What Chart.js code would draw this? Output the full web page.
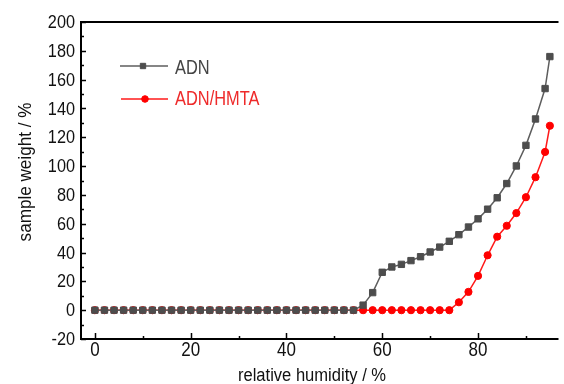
<!DOCTYPE html>
<html>
<head>
<meta charset="utf-8">
<script src="https://cdn.jsdelivr.net/npm/chart.js@4.4.1/dist/chart.umd.min.js"></script>
<style>
  html, body { margin: 0; padding: 0; background: #ffffff; overflow: hidden; }
  #wrap { width: 564px; height: 384px; }
</style>
</head>
<body>
<div id="wrap"><canvas id="chart" width="564" height="384"></canvas></div>
<script>
// Relative humidity (%) for every measured point
const humidity = [0, 2, 4, 6, 8, 10, 12, 14, 16, 18, 20, 22, 24, 26, 28, 30, 32, 34, 36, 38,
    40, 42, 44, 46, 48, 50, 52, 54, 56, 58, 60, 62, 64, 66, 68, 70, 72, 74, 76, 78,
    80, 82, 84, 86, 88, 90, 92, 94, 95];

// Sample weight (%) - pure ADN
const adnWeight = [0, 0, 0, 0, 0, 0, 0, 0, 0, 0, 0, 0, 0, 0, 0, 0, 0, 0, 0, 0,
    0, 0, 0, 0, 0, 0, 0, 0, 3.5, 12.2, 26.3, 30.0, 31.8, 34.4, 37.1, 40.4, 43.8, 47.8, 52.4, 57.7,
    63.4, 70.1, 78.0, 87.9, 100.1, 114.4, 132.7, 153.8, 176.0];

// Sample weight (%) - ADN/HMTA
const hmtaWeight = [0, 0, 0, 0, 0, 0, 0, 0, 0, 0, 0, 0, 0, 0, 0, 0, 0, 0, 0, 0,
    0, 0, 0, 0, 0, 0, 0, 0, 0, 0, 0, 0, 0, 0, 0, 0, 0, 0, 5.5, 12.7,
    23.8, 38.1, 51.0, 58.6, 67.4, 78.4, 92.3, 109.8, 128.0];

const seriesNames = ['ADN', 'ADN/HMTA'];
const xTickValues = [0, 20, 40, 60, 80];
const yTickValues = [-20, 0, 20, 40, 60, 80, 100, 120, 140, 160, 180, 200];

const FONT = '"Liberation Sans", Arial, sans-serif';

// Draw text squeezed horizontally (the original figure is narrow)
function squeezedText(ctx, text, x, y, align, sx) {
    ctx.save();
    ctx.translate(x, y);
    ctx.scale(sx, 1);
    ctx.textAlign = align;
    ctx.fillText(text, 0, 0);
    ctx.restore();
}

// Axis frame, inward ticks, tick labels and axis titles
const framePlugin = {
    id: 'frame',
    afterDraw(chart) {
        const ctx = chart.ctx;
        const area = chart.chartArea;
        const xs = chart.scales.x;
        const ys = chart.scales.y;
        ctx.save();
        ctx.strokeStyle = '#000000';
        ctx.lineWidth = 2;
        ctx.beginPath();
        ctx.moveTo(area.right, area.top);
        ctx.lineTo(area.left, area.top);
        ctx.lineTo(area.left, area.bottom);
        ctx.lineTo(area.right, area.bottom);
        ctx.stroke();

        // y ticks (major every 20, minor every 10)
        ctx.lineWidth = 1.5;
        ctx.beginPath();
        for (let v = -20; v <= 200; v += 10) {
            const py = Math.round(ys.getPixelForValue(v)) + 0.5;
            const len = v % 20 === 0 ? 5 : 3;
            ctx.moveTo(area.left, py);
            ctx.lineTo(area.left + len, py);
        }
        // x ticks
        for (let v = 0; v <= 90; v += 10) {
            const px = Math.round(xs.getPixelForValue(v)) + 0.5;
            const len = v % 20 === 0 ? 6 : 3;
            ctx.moveTo(px, area.bottom);
            ctx.lineTo(px, area.bottom - len);
        }
        ctx.stroke();

        ctx.fillStyle = '#111111';
        ctx.textBaseline = 'middle';
        ctx.font = '18.5px ' + FONT;
        yTickValues.forEach(v => {
            squeezedText(ctx, String(v), area.left - 6, ys.getPixelForValue(v) + 1, 'right', 0.88);
        });
        ctx.textBaseline = 'alphabetic';
        ctx.font = '20px ' + FONT;
        xTickValues.forEach(v => {
            squeezedText(ctx, String(v), xs.getPixelForValue(v), area.bottom + 17, 'center', 0.85);
        });

        // axis titles
        ctx.font = '18px ' + FONT;
        squeezedText(ctx, 'relative humidity / %', 312, 381, 'center', 0.92);
        ctx.save();
        ctx.translate(26, 172);
        ctx.rotate(-Math.PI / 2);
        ctx.textBaseline = 'middle';
        ctx.font = '19px ' + FONT;
        squeezedText(ctx, 'sample weight / %', 0, 0, 'center', 0.9);
        ctx.restore();

        // legend inside the plot
        const rows = [
            { y: 66, textY: 68, x0: 120, x1: 168, mx: 143, text: '#444444' },
            { y: 99, textY: 99, x0: 121, x1: 168, mx: 145, text: '#ee2a2a' }
        ];
        rows.forEach((row, i) => {
            const ds = chart.data.datasets[i];
            ctx.strokeStyle = ds.borderColor;
            ctx.lineWidth = 1.5;
            ctx.beginPath();
            ctx.moveTo(row.x0, row.y);
            ctx.lineTo(row.x1, row.y);
            ctx.stroke();
            ctx.fillStyle = ds.pointBackgroundColor;
            ctx.strokeStyle = ds.pointBorderColor;
            ctx.lineWidth = 1;
            Chart.helpers.drawPoint(ctx, {
                pointStyle: ds.pointStyle,
                radius: i === 0 ? 3.8 : 3.3,
                borderWidth: 1
            }, row.mx, row.y);
            ctx.fillStyle = row.text;
            ctx.font = '20px ' + FONT;
            ctx.textBaseline = 'middle';
            squeezedText(ctx, seriesNames[i], 175, row.textY, 'left', 0.82);
        });
        ctx.restore();
    }
};

const ctx = document.getElementById('chart');
new Chart(ctx, {
    type: 'line',
    data: {
        datasets: [
            {
                label: seriesNames[0],
                data: humidity.map((h, i) => ({ x: h, y: adnWeight[i] })),
                borderColor: '#5e5e5e',
                borderWidth: 1.5,
                pointStyle: 'rect',
                pointRadius: 4.5,
                pointBorderWidth: 1,
                pointBackgroundColor: '#4d4d4d',
                pointBorderColor: '#4d4d4d',
                tension: 0
            },
            {
                label: seriesNames[1],
                data: humidity.map((h, i) => ({ x: h, y: hmtaWeight[i] })),
                borderColor: '#ff1a1a',
                borderWidth: 1.5,
                pointStyle: 'circle',
                pointRadius: 3.6,
                pointBorderWidth: 1,
                pointBackgroundColor: '#ff0000',
                pointBorderColor: '#ff0000',
                tension: 0
            }
        ]
    },
    options: {
        responsive: false,
        animation: false,
        layout: { padding: { top: 22, right: 0, left: 0, bottom: 0 } },
        plugins: {
            legend: { display: false },
            tooltip: { enabled: false }
        },
        scales: {
            x: {
                type: 'linear',
                min: -2.9,
                max: 96.8,
                grid: { display: false },
                border: { display: false },
                ticks: { display: false },
                afterFit(scale) { scale.height = 45; }
            },
            y: {
                min: -20,
                max: 200,
                grid: { display: false },
                border: { display: false },
                ticks: { display: false },
                afterFit(scale) { scale.width = 81; }
            }
        }
    },
    plugins: [framePlugin]
});
</script>
</body>
</html>
